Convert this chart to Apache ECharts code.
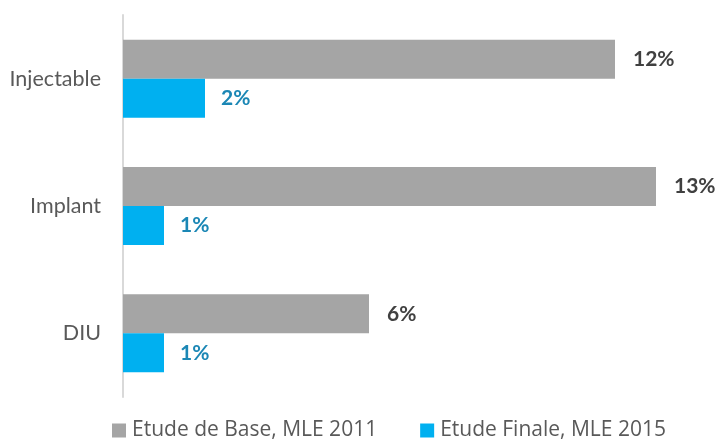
<!DOCTYPE html>
<html><head><meta charset="utf-8">
<script src="https://cdn.jsdelivr.net/npm/echarts@6/dist/echarts.min.js"></script>
<style>html,body{margin:0;padding:0;background:#fff}#c{width:719px;height:439px}</style>
</head><body><div id="c"></div>
<script>
const categories = ['DIU', 'Implant', 'Injectable'];
const seriesNames = ['Etude de Base, MLE 2011', 'Etude Finale, MLE 2015'];
const baseValues = [6, 13, 12];
const finalValues = [1, 1, 2];

const chart = echarts.init(document.getElementById('c'));
chart.setOption({
  animation: false,
  backgroundColor: '#fff',
  grid: {left: 123, right: 22, top: 15, bottom: 42, containLabel: false, outerBoundsMode: 'none'},
  legend: {
    top: 420, left: 112, padding: 0, itemWidth: 14, itemHeight: 14, itemGap: 43,
    icon: 'rect',
    textStyle: {fontFamily: 'Open Sans', fontSize: 21, color: '#595959', padding: [0, 0, 0, 1]},
    data: seriesNames
  },
  xAxis: {type: 'value', min: 0, max: 14, show: false},
  yAxis: {
    type: 'category', data: categories,
    axisLine: {show: true, lineStyle: {color: '#d9d9d9', width: 2}},
    axisTick: {show: false},
    axisLabel: {fontFamily: 'Lato', fontSize: 21.5, color: '#595959', margin: 22}
  },
  series: [
    {
      name: seriesNames[0], type: 'bar', data: baseValues, barWidth: 39, barGap: '0%',
      itemStyle: {color: '#a5a5a5'},
      label: {show: true, position: 'right', distance: 18, formatter: '{c}%',
        fontFamily: 'Lato', fontWeight: 'bold', fontSize: 21, color: '#404040'}
    },
    {
      name: seriesNames[1], type: 'bar', data: finalValues, barWidth: 39, barGap: '0%',
      itemStyle: {color: '#00b0f0'},
      label: {show: true, position: 'right', distance: 16, formatter: '{c}%',
        fontFamily: 'Lato', fontWeight: 'bold', fontSize: 21, color: '#1b87b5'}
    }
  ]
});
</script></body></html>
